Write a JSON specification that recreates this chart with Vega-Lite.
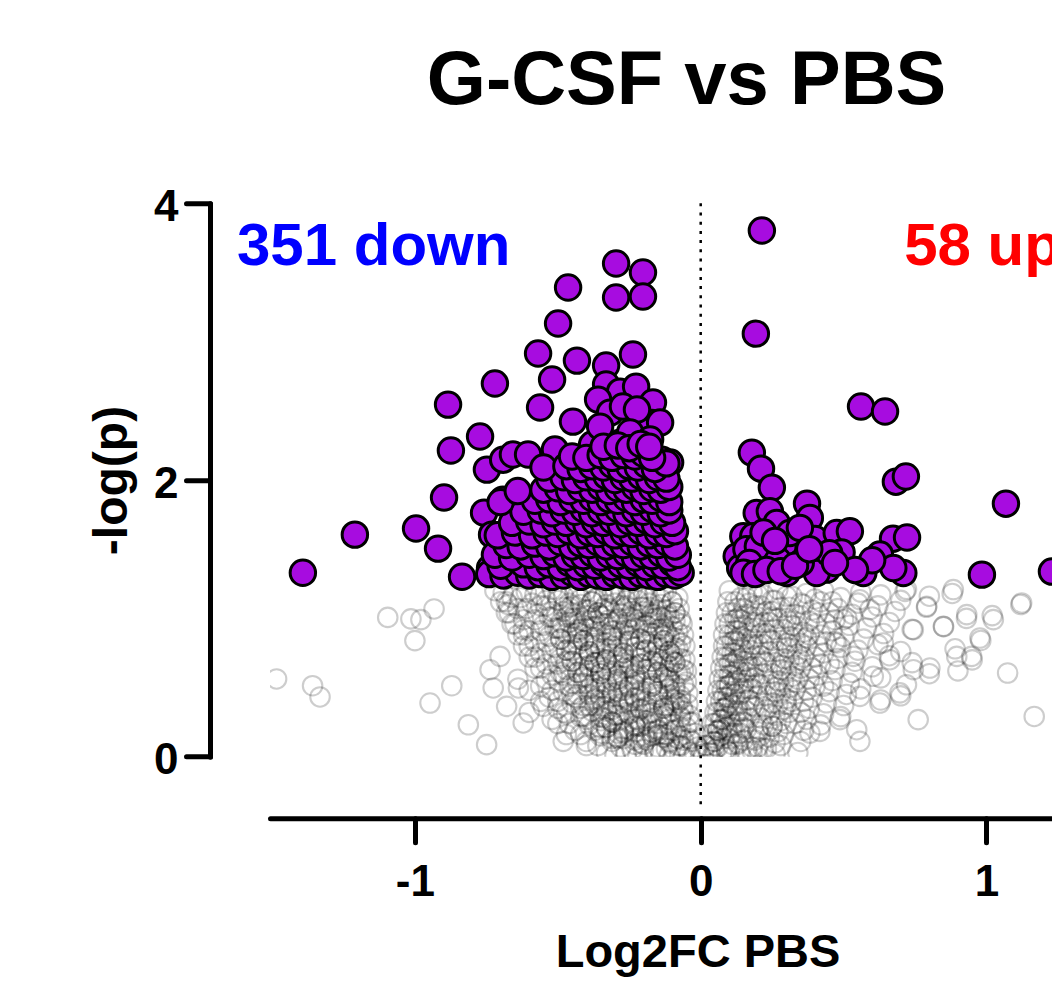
{
"$schema":"https://vega.github.io/schema/vega-lite/v6.json",
"width":782,"height":553.4,
"autosize":{"type":"none"},
"padding":{"left":270,"top":203.3,"right":0,"bottom":225.3},
"background":"white",
"config":{"view":{"stroke":null},"font":"Liberation Sans"},
"title":{"text":"G-CSF vs PBS","font":"Liberation Sans","fontSize":76,"fontWeight":"bold","color":"black","anchor":"middle","frame":"group","dx":25.5,"offset":65},
"datasets":{
"labels":[{"label":"351 down","x":-1.6225,"y":3.557,"dir":"down"},{"label":"58 up","x":0.712,"y":3.557,"dir":"up"}],
"ns":[
{"x":-0.72,"y":1.20},{"x":-0.66,"y":1.15},{"x":-0.61,"y":1.19},{"x":-0.56,"y":1.17},{"x":-0.52,"y":1.21},{"x":-0.48,"y":1.16},{"x":-0.44,"y":1.18},{"x":-0.40,"y":1.20},{"x":-0.36,"y":1.15},{"x":-0.32,"y":1.19},{"x":-0.28,"y":1.17},{"x":-0.24,"y":1.21},{"x":-0.20,"y":1.16},{"x":-0.16,"y":1.18},{"x":-0.12,"y":1.20},{"x":-0.08,"y":1.15},
{"x":-0.70,"y":1.12},{"x":-0.64,"y":1.07},{"x":-0.59,"y":1.11},{"x":-0.54,"y":1.09},{"x":-0.50,"y":1.13},{"x":-0.46,"y":1.08},{"x":-0.42,"y":1.10},{"x":-0.38,"y":1.12},{"x":-0.34,"y":1.07},{"x":-0.30,"y":1.11},{"x":-0.26,"y":1.09},{"x":-0.22,"y":1.13},{"x":-0.18,"y":1.08},{"x":-0.14,"y":1.10},{"x":-0.10,"y":1.12},{"x":-0.075,"y":1.07},
{"x":-0.68,"y":1.04},{"x":-0.62,"y":0.99},{"x":-0.57,"y":1.03},{"x":-0.52,"y":1.01},{"x":-0.48,"y":1.05},{"x":-0.44,"y":1.00},{"x":-0.40,"y":1.02},{"x":-0.36,"y":1.04},{"x":-0.32,"y":0.99},{"x":-0.28,"y":1.03},{"x":-0.24,"y":1.01},{"x":-0.20,"y":1.05},{"x":-0.16,"y":1.00},{"x":-0.12,"y":1.02},{"x":-0.09,"y":1.04},{"x":-0.07,"y":0.99},
{"x":-0.66,"y":0.96},{"x":-0.60,"y":0.91},{"x":-0.55,"y":0.95},{"x":-0.50,"y":0.93},{"x":-0.46,"y":0.97},{"x":-0.42,"y":0.92},{"x":-0.38,"y":0.94},{"x":-0.34,"y":0.96},{"x":-0.30,"y":0.91},{"x":-0.26,"y":0.95},{"x":-0.22,"y":0.93},{"x":-0.18,"y":0.97},{"x":-0.14,"y":0.92},{"x":-0.10,"y":0.94},{"x":-0.065,"y":0.96},
{"x":-0.64,"y":0.88},{"x":-0.58,"y":0.83},{"x":-0.53,"y":0.87},{"x":-0.49,"y":0.85},{"x":-0.45,"y":0.89},{"x":-0.41,"y":0.84},{"x":-0.37,"y":0.86},{"x":-0.33,"y":0.88},{"x":-0.29,"y":0.83},{"x":-0.25,"y":0.87},{"x":-0.21,"y":0.85},{"x":-0.17,"y":0.89},{"x":-0.13,"y":0.84},{"x":-0.09,"y":0.86},{"x":-0.06,"y":0.88},
{"x":-0.62,"y":0.80},{"x":-0.56,"y":0.75},{"x":-0.51,"y":0.79},{"x":-0.47,"y":0.77},{"x":-0.43,"y":0.81},{"x":-0.39,"y":0.76},{"x":-0.35,"y":0.78},{"x":-0.31,"y":0.80},{"x":-0.27,"y":0.75},{"x":-0.23,"y":0.79},{"x":-0.19,"y":0.77},{"x":-0.15,"y":0.81},{"x":-0.11,"y":0.76},{"x":-0.08,"y":0.78},{"x":-0.055,"y":0.80},
{"x":-0.60,"y":0.72},{"x":-0.54,"y":0.67},{"x":-0.49,"y":0.71},{"x":-0.45,"y":0.69},{"x":-0.41,"y":0.73},{"x":-0.37,"y":0.68},{"x":-0.33,"y":0.70},{"x":-0.29,"y":0.72},{"x":-0.25,"y":0.67},{"x":-0.21,"y":0.71},{"x":-0.17,"y":0.69},{"x":-0.13,"y":0.73},{"x":-0.09,"y":0.68},{"x":-0.055,"y":0.70},
{"x":-0.58,"y":0.64},{"x":-0.52,"y":0.59},{"x":-0.47,"y":0.63},{"x":-0.43,"y":0.61},{"x":-0.39,"y":0.65},{"x":-0.35,"y":0.60},{"x":-0.31,"y":0.62},{"x":-0.27,"y":0.64},{"x":-0.23,"y":0.59},{"x":-0.19,"y":0.63},{"x":-0.15,"y":0.61},{"x":-0.11,"y":0.65},{"x":-0.08,"y":0.60},{"x":-0.05,"y":0.62},
{"x":-0.64,"y":0.56},{"x":-0.56,"y":0.51},{"x":-0.50,"y":0.55},{"x":-0.45,"y":0.53},{"x":-0.41,"y":0.57},{"x":-0.37,"y":0.52},{"x":-0.33,"y":0.54},{"x":-0.29,"y":0.56},{"x":-0.25,"y":0.51},{"x":-0.21,"y":0.55},{"x":-0.17,"y":0.53},{"x":-0.13,"y":0.57},{"x":-0.09,"y":0.52},{"x":-0.05,"y":0.54},
{"x":-0.60,"y":0.48},{"x":-0.53,"y":0.43},{"x":-0.48,"y":0.47},{"x":-0.43,"y":0.45},{"x":-0.39,"y":0.49},{"x":-0.35,"y":0.44},{"x":-0.31,"y":0.46},{"x":-0.27,"y":0.48},{"x":-0.23,"y":0.43},{"x":-0.19,"y":0.47},{"x":-0.15,"y":0.45},{"x":-0.11,"y":0.49},{"x":-0.07,"y":0.44},{"x":-0.045,"y":0.46},
{"x":-0.56,"y":0.40},{"x":-0.50,"y":0.35},{"x":-0.45,"y":0.39},{"x":-0.41,"y":0.37},{"x":-0.37,"y":0.41},{"x":-0.33,"y":0.36},{"x":-0.29,"y":0.38},{"x":-0.25,"y":0.40},{"x":-0.21,"y":0.35},{"x":-0.17,"y":0.39},{"x":-0.13,"y":0.37},{"x":-0.09,"y":0.41},{"x":-0.065,"y":0.36},{"x":-0.045,"y":0.38},
{"x":-0.60,"y":0.32},{"x":-0.52,"y":0.27},{"x":-0.47,"y":0.31},{"x":-0.42,"y":0.29},{"x":-0.38,"y":0.33},{"x":-0.34,"y":0.28},{"x":-0.30,"y":0.30},{"x":-0.26,"y":0.32},{"x":-0.22,"y":0.27},{"x":-0.18,"y":0.31},{"x":-0.14,"y":0.29},{"x":-0.10,"y":0.33},{"x":-0.07,"y":0.28},{"x":-0.04,"y":0.30},
{"x":-0.50,"y":0.24},{"x":-0.44,"y":0.19},{"x":-0.39,"y":0.23},{"x":-0.35,"y":0.21},{"x":-0.31,"y":0.25},{"x":-0.27,"y":0.20},{"x":-0.23,"y":0.22},{"x":-0.19,"y":0.24},{"x":-0.15,"y":0.19},{"x":-0.11,"y":0.23},{"x":-0.07,"y":0.21},{"x":-0.03,"y":0.25},
{"x":-0.47,"y":0.16},{"x":-0.40,"y":0.11},{"x":-0.35,"y":0.15},{"x":-0.31,"y":0.13},{"x":-0.27,"y":0.17},{"x":-0.23,"y":0.12},{"x":-0.19,"y":0.14},{"x":-0.15,"y":0.16},{"x":-0.11,"y":0.11},{"x":-0.07,"y":0.15},{"x":-0.04,"y":0.13},{"x":-0.02,"y":0.17},
{"x":-0.40,"y":0.08},{"x":-0.33,"y":0.03},{"x":-0.28,"y":0.07},{"x":-0.24,"y":0.05},{"x":-0.20,"y":0.09},{"x":-0.16,"y":0.04},{"x":-0.12,"y":0.06},{"x":-0.08,"y":0.08},{"x":-0.04,"y":0.03},{"x":-0.01,"y":0.07},
{"x":-0.30,"y":0.01},{"x":-0.22,"y":0.0},{"x":-0.16,"y":0.02},{"x":-0.11,"y":0.01},{"x":-0.06,"y":0.0},{"x":-0.02,"y":0.02},
{"x":-0.68,"y":1.12},{"x":-0.63,"y":1.15},{"x":-0.58,"y":1.17},{"x":-0.54,"y":1.13},{"x":-0.50,"y":1.16},{"x":-0.46,"y":1.11},{"x":-0.42,"y":1.14},{"x":-0.38,"y":1.12},{"x":-0.34,"y":1.15},{"x":-0.30,"y":1.17},{"x":-0.26,"y":1.13},{"x":-0.22,"y":1.16},{"x":-0.18,"y":1.11},{"x":-0.14,"y":1.14},{"x":-0.10,"y":1.12},
{"x":-0.67,"y":1.04},{"x":-0.61,"y":1.07},{"x":-0.56,"y":1.09},{"x":-0.52,"y":1.05},{"x":-0.48,"y":1.08},{"x":-0.44,"y":1.03},{"x":-0.40,"y":1.06},{"x":-0.36,"y":1.04},{"x":-0.32,"y":1.07},{"x":-0.28,"y":1.09},{"x":-0.24,"y":1.05},{"x":-0.20,"y":1.08},{"x":-0.16,"y":1.03},{"x":-0.12,"y":1.06},{"x":-0.09,"y":1.04},
{"x":-0.65,"y":0.96},{"x":-0.58,"y":0.99},{"x":-0.53,"y":1.01},{"x":-0.49,"y":0.97},{"x":-0.45,"y":1.00},{"x":-0.41,"y":0.95},{"x":-0.37,"y":0.98},{"x":-0.33,"y":0.96},{"x":-0.29,"y":0.99},{"x":-0.25,"y":1.01},{"x":-0.21,"y":0.97},{"x":-0.17,"y":1.00},{"x":-0.13,"y":0.95},{"x":-0.09,"y":0.98},
{"x":-0.62,"y":0.88},{"x":-0.56,"y":0.91},{"x":-0.51,"y":0.93},{"x":-0.47,"y":0.89},{"x":-0.43,"y":0.92},{"x":-0.39,"y":0.87},{"x":-0.35,"y":0.90},{"x":-0.31,"y":0.88},{"x":-0.27,"y":0.91},{"x":-0.23,"y":0.93},{"x":-0.19,"y":0.89},{"x":-0.15,"y":0.92},{"x":-0.11,"y":0.87},{"x":-0.08,"y":0.90},
{"x":-0.60,"y":0.80},{"x":-0.54,"y":0.83},{"x":-0.49,"y":0.85},{"x":-0.45,"y":0.81},{"x":-0.41,"y":0.84},{"x":-0.37,"y":0.79},{"x":-0.33,"y":0.82},{"x":-0.29,"y":0.80},{"x":-0.25,"y":0.83},{"x":-0.21,"y":0.85},{"x":-0.17,"y":0.81},{"x":-0.13,"y":0.84},{"x":-0.09,"y":0.79},{"x":-0.07,"y":0.82},
{"x":-0.58,"y":0.72},{"x":-0.52,"y":0.75},{"x":-0.47,"y":0.77},{"x":-0.43,"y":0.73},{"x":-0.39,"y":0.76},{"x":-0.35,"y":0.71},{"x":-0.31,"y":0.74},{"x":-0.27,"y":0.72},{"x":-0.23,"y":0.75},{"x":-0.19,"y":0.77},{"x":-0.15,"y":0.73},{"x":-0.11,"y":0.76},{"x":-0.07,"y":0.71},
{"x":-0.56,"y":0.64},{"x":-0.50,"y":0.67},{"x":-0.45,"y":0.69},{"x":-0.41,"y":0.65},{"x":-0.37,"y":0.68},{"x":-0.33,"y":0.63},{"x":-0.29,"y":0.66},{"x":-0.25,"y":0.64},{"x":-0.21,"y":0.67},{"x":-0.17,"y":0.69},{"x":-0.13,"y":0.65},{"x":-0.09,"y":0.68},{"x":-0.06,"y":0.63},
{"x":-0.54,"y":0.56},{"x":-0.48,"y":0.59},{"x":-0.43,"y":0.61},{"x":-0.39,"y":0.57},{"x":-0.35,"y":0.60},{"x":-0.31,"y":0.55},{"x":-0.27,"y":0.58},{"x":-0.23,"y":0.56},{"x":-0.19,"y":0.59},{"x":-0.15,"y":0.61},{"x":-0.11,"y":0.57},{"x":-0.07,"y":0.60},
{"x":-0.52,"y":0.48},{"x":-0.46,"y":0.51},{"x":-0.41,"y":0.53},{"x":-0.37,"y":0.49},{"x":-0.33,"y":0.52},{"x":-0.29,"y":0.47},{"x":-0.25,"y":0.50},{"x":-0.21,"y":0.48},{"x":-0.17,"y":0.51},{"x":-0.13,"y":0.53},{"x":-0.09,"y":0.49},{"x":-0.06,"y":0.52},
{"x":-0.50,"y":0.40},{"x":-0.44,"y":0.43},{"x":-0.39,"y":0.45},{"x":-0.35,"y":0.41},{"x":-0.31,"y":0.44},{"x":-0.27,"y":0.39},{"x":-0.23,"y":0.42},{"x":-0.19,"y":0.40},{"x":-0.15,"y":0.43},{"x":-0.11,"y":0.45},{"x":-0.07,"y":0.41},
{"x":-0.48,"y":0.32},{"x":-0.42,"y":0.35},{"x":-0.37,"y":0.37},{"x":-0.33,"y":0.33},{"x":-0.29,"y":0.36},{"x":-0.25,"y":0.31},{"x":-0.21,"y":0.34},{"x":-0.17,"y":0.32},{"x":-0.13,"y":0.35},{"x":-0.09,"y":0.37},{"x":-0.06,"y":0.33},
{"x":-0.46,"y":0.24},{"x":-0.40,"y":0.27},{"x":-0.35,"y":0.29},{"x":-0.31,"y":0.25},{"x":-0.27,"y":0.28},{"x":-0.23,"y":0.23},{"x":-0.19,"y":0.26},{"x":-0.15,"y":0.24},{"x":-0.11,"y":0.27},{"x":-0.07,"y":0.29},{"x":-0.04,"y":0.25},
{"x":-0.42,"y":0.16},{"x":-0.37,"y":0.19},{"x":-0.33,"y":0.21},{"x":-0.29,"y":0.17},{"x":-0.25,"y":0.20},{"x":-0.21,"y":0.15},{"x":-0.17,"y":0.18},{"x":-0.13,"y":0.16},{"x":-0.09,"y":0.19},{"x":-0.05,"y":0.21},
{"x":-0.36,"y":0.08},{"x":-0.31,"y":0.11},{"x":-0.27,"y":0.13},{"x":-0.23,"y":0.09},{"x":-0.19,"y":0.12},{"x":-0.15,"y":0.07},{"x":-0.11,"y":0.10},{"x":-0.07,"y":0.08},{"x":-0.03,"y":0.11},
{"x":-0.26,"y":0.02},{"x":-0.20,"y":0.05},{"x":-0.14,"y":0.03},{"x":-0.09,"y":0.04},{"x":-0.05,"y":0.06},
{"x":-0.43,"y":1.17},{"x":-0.37,"y":1.14},{"x":-0.31,"y":1.18},{"x":-0.25,"y":1.16},{"x":-0.19,"y":1.15},{"x":-0.13,"y":1.19},
{"x":-0.47,"y":1.01},{"x":-0.41,"y":0.98},{"x":-0.35,"y":1.02},{"x":-0.29,"y":1.00},{"x":-0.23,"y":0.99},{"x":-0.17,"y":1.03},{"x":-0.11,"y":1.01},
{"x":-0.43,"y":0.85},{"x":-0.37,"y":0.82},{"x":-0.31,"y":0.86},{"x":-0.25,"y":0.84},{"x":-0.19,"y":0.83},{"x":-0.13,"y":0.87},
{"x":-0.47,"y":0.69},{"x":-0.39,"y":0.66},{"x":-0.33,"y":0.70},{"x":-0.27,"y":0.68},{"x":-0.21,"y":0.67},{"x":-0.15,"y":0.71},{"x":-0.10,"y":0.69},
{"x":-0.43,"y":0.53},{"x":-0.35,"y":0.50},{"x":-0.29,"y":0.54},{"x":-0.23,"y":0.52},{"x":-0.17,"y":0.51},{"x":-0.11,"y":0.55},
{"x":-0.39,"y":0.37},{"x":-0.31,"y":0.34},{"x":-0.25,"y":0.38},{"x":-0.19,"y":0.36},{"x":-0.13,"y":0.35},{"x":-0.08,"y":0.39},
{"x":-0.33,"y":0.21},{"x":-0.27,"y":0.18},{"x":-0.21,"y":0.22},{"x":-0.15,"y":0.20},{"x":-0.10,"y":0.19},
{"x":-0.29,"y":0.13},{"x":-0.21,"y":0.10},{"x":-0.13,"y":0.14},{"x":-0.06,"y":0.12},
{"x":-0.45,"y":1.09},{"x":-0.39,"y":1.06},{"x":-0.33,"y":1.10},{"x":-0.27,"y":1.07},{"x":-0.21,"y":1.08},{"x":-0.15,"y":1.06},
{"x":-0.49,"y":0.93},{"x":-0.43,"y":0.90},{"x":-0.37,"y":0.94},{"x":-0.31,"y":0.91},{"x":-0.25,"y":0.92},{"x":-0.19,"y":0.95},{"x":-0.12,"y":0.90},
{"x":-0.45,"y":0.77},{"x":-0.39,"y":0.74},{"x":-0.33,"y":0.78},{"x":-0.27,"y":0.75},{"x":-0.21,"y":0.76},{"x":-0.15,"y":0.79},{"x":-0.10,"y":0.74},
{"x":-0.49,"y":0.61},{"x":-0.41,"y":0.58},{"x":-0.35,"y":0.62},{"x":-0.29,"y":0.59},{"x":-0.23,"y":0.60},{"x":-0.17,"y":0.63},{"x":-0.12,"y":0.58},
{"x":-0.45,"y":0.45},{"x":-0.37,"y":0.42},{"x":-0.33,"y":0.46},{"x":-0.27,"y":0.43},{"x":-0.21,"y":0.44},{"x":-0.15,"y":0.47},{"x":-0.10,"y":0.42},
{"x":-0.41,"y":0.29},{"x":-0.35,"y":0.26},{"x":-0.29,"y":0.30},{"x":-0.23,"y":0.27},{"x":-0.17,"y":0.28},{"x":-0.12,"y":0.31},
{"x":-0.35,"y":0.17},{"x":-0.29,"y":0.14},{"x":-0.23,"y":0.18},{"x":-0.17,"y":0.15},{"x":-0.12,"y":0.16},{"x":-0.08,"y":0.13},
{"x":-0.38,"y":1.00},{"x":-0.26,"y":0.97},{"x":-0.14,"y":1.01},{"x":-0.36,"y":0.68},{"x":-0.24,"y":0.65},{"x":-0.14,"y":0.69},{"x":-0.34,"y":0.36},{"x":-0.22,"y":0.33},{"x":-0.11,"y":0.37},
{"x":-1.484,"y":0.562},{"x":-1.358,"y":0.513},{"x":-1.332,"y":0.432},{"x":-1.095,"y":1.007},{"x":-1.014,"y":0.996},{"x":-0.979,"y":0.991},{"x":-0.933,"y":1.068},{"x":-1.0,"y":0.839},{"x":-0.871,"y":0.513},{"x":-0.947,"y":0.388},{"x":-0.813,"y":0.231},{"x":-0.749,"y":0.087},{"x":-0.481,"y":0.111},{"x":-0.702,"y":0.725},{"x":-0.737,"y":0.629},{"x":-0.726,"y":0.497},{"x":-0.679,"y":0.364},{"x":-0.621,"y":0.244},{"x":-0.638,"y":0.497},{"x":-0.691,"y":1.184},{"x":-0.673,"y":1.099},{"x":-0.621,"y":0.918},{"x":-0.551,"y":0.364},
{"x":0.10,"y":1.20},{"x":0.14,"y":1.15},{"x":0.18,"y":1.19},{"x":0.22,"y":1.17},{"x":0.27,"y":1.21},{"x":0.32,"y":1.16},{"x":0.37,"y":1.18},{"x":0.43,"y":1.20},{"x":0.49,"y":1.15},{"x":0.56,"y":1.19},{"x":0.63,"y":1.17},{"x":0.72,"y":1.21},{"x":0.80,"y":1.16},{"x":0.88,"y":1.18},
{"x":0.095,"y":1.12},{"x":0.13,"y":1.07},{"x":0.17,"y":1.11},{"x":0.21,"y":1.09},{"x":0.26,"y":1.13},{"x":0.31,"y":1.08},{"x":0.36,"y":1.10},{"x":0.42,"y":1.12},{"x":0.48,"y":1.07},{"x":0.55,"y":1.11},{"x":0.62,"y":1.09},{"x":0.70,"y":1.13},{"x":0.79,"y":1.08},{"x":1.12,"y":1.10},
{"x":0.09,"y":1.04},{"x":0.12,"y":0.99},{"x":0.16,"y":1.03},{"x":0.20,"y":1.01},{"x":0.25,"y":1.05},{"x":0.30,"y":1.00},{"x":0.35,"y":1.02},{"x":0.41,"y":1.04},{"x":0.47,"y":0.99},{"x":0.53,"y":1.03},{"x":0.60,"y":1.01},{"x":0.68,"y":1.05},{"x":0.93,"y":1.00},{"x":1.02,"y":1.02},
{"x":0.085,"y":0.96},{"x":0.12,"y":0.91},{"x":0.15,"y":0.95},{"x":0.19,"y":0.93},{"x":0.24,"y":0.97},{"x":0.29,"y":0.92},{"x":0.34,"y":0.94},{"x":0.40,"y":0.96},{"x":0.46,"y":0.91},{"x":0.52,"y":0.95},{"x":0.58,"y":0.93},{"x":0.66,"y":0.97},{"x":0.74,"y":0.92},{"x":0.85,"y":0.94},
{"x":0.08,"y":0.88},{"x":0.11,"y":0.83},{"x":0.14,"y":0.87},{"x":0.18,"y":0.85},{"x":0.23,"y":0.89},{"x":0.28,"y":0.84},{"x":0.33,"y":0.86},{"x":0.38,"y":0.88},{"x":0.44,"y":0.83},{"x":0.50,"y":0.87},{"x":0.57,"y":0.85},{"x":0.64,"y":0.89},{"x":0.98,"y":0.84},
{"x":0.08,"y":0.80},{"x":0.11,"y":0.75},{"x":0.14,"y":0.79},{"x":0.17,"y":0.77},{"x":0.22,"y":0.81},{"x":0.27,"y":0.76},{"x":0.32,"y":0.78},{"x":0.37,"y":0.80},{"x":0.43,"y":0.75},{"x":0.49,"y":0.79},{"x":0.55,"y":0.77},{"x":0.62,"y":0.81},{"x":0.70,"y":0.76},{"x":0.89,"y":0.78},
{"x":0.075,"y":0.72},{"x":0.10,"y":0.67},{"x":0.13,"y":0.71},{"x":0.16,"y":0.69},{"x":0.21,"y":0.73},{"x":0.26,"y":0.68},{"x":0.31,"y":0.70},{"x":0.36,"y":0.72},{"x":0.42,"y":0.67},{"x":0.48,"y":0.71},{"x":0.54,"y":0.69},{"x":0.66,"y":0.73},{"x":0.74,"y":0.68},{"x":0.95,"y":0.70},
{"x":0.07,"y":0.64},{"x":0.10,"y":0.59},{"x":0.13,"y":0.63},{"x":0.16,"y":0.61},{"x":0.20,"y":0.65},{"x":0.25,"y":0.60},{"x":0.30,"y":0.62},{"x":0.35,"y":0.64},{"x":0.41,"y":0.59},{"x":0.47,"y":0.63},{"x":0.53,"y":0.61},{"x":0.60,"y":0.65},{"x":0.80,"y":0.60},{"x":0.90,"y":0.62},
{"x":0.065,"y":0.56},{"x":0.09,"y":0.51},{"x":0.12,"y":0.55},{"x":0.15,"y":0.53},{"x":0.19,"y":0.57},{"x":0.24,"y":0.52},{"x":0.29,"y":0.54},{"x":0.34,"y":0.56},{"x":0.40,"y":0.51},{"x":0.46,"y":0.55},{"x":0.52,"y":0.53},{"x":0.63,"y":0.57},{"x":0.72,"y":0.52},
{"x":0.06,"y":0.48},{"x":0.08,"y":0.43},{"x":0.11,"y":0.47},{"x":0.14,"y":0.45},{"x":0.18,"y":0.49},{"x":0.23,"y":0.44},{"x":0.28,"y":0.46},{"x":0.33,"y":0.48},{"x":0.39,"y":0.43},{"x":0.45,"y":0.47},{"x":0.51,"y":0.45},{"x":0.56,"y":0.49},{"x":0.70,"y":0.44},
{"x":0.055,"y":0.40},{"x":0.08,"y":0.35},{"x":0.10,"y":0.39},{"x":0.13,"y":0.37},{"x":0.17,"y":0.41},{"x":0.22,"y":0.36},{"x":0.27,"y":0.38},{"x":0.32,"y":0.40},{"x":0.38,"y":0.35},{"x":0.44,"y":0.39},{"x":0.50,"y":0.37},{"x":0.63,"y":0.41},
{"x":0.05,"y":0.32},{"x":0.07,"y":0.27},{"x":0.09,"y":0.31},{"x":0.12,"y":0.29},{"x":0.16,"y":0.33},{"x":0.21,"y":0.28},{"x":0.26,"y":0.30},{"x":0.31,"y":0.32},{"x":0.37,"y":0.27},{"x":0.43,"y":0.31},{"x":0.49,"y":0.29},
{"x":0.04,"y":0.24},{"x":0.06,"y":0.19},{"x":0.08,"y":0.23},{"x":0.11,"y":0.21},{"x":0.15,"y":0.25},{"x":0.20,"y":0.20},{"x":0.25,"y":0.22},{"x":0.30,"y":0.24},{"x":0.36,"y":0.19},{"x":0.42,"y":0.23},
{"x":0.03,"y":0.16},{"x":0.05,"y":0.11},{"x":0.07,"y":0.15},{"x":0.10,"y":0.13},{"x":0.14,"y":0.17},{"x":0.19,"y":0.12},{"x":0.24,"y":0.14},{"x":0.29,"y":0.16},{"x":0.35,"y":0.11},
{"x":0.015,"y":0.08},{"x":0.03,"y":0.03},{"x":0.06,"y":0.07},{"x":0.09,"y":0.05},{"x":0.13,"y":0.09},{"x":0.18,"y":0.04},{"x":0.23,"y":0.06},{"x":0.28,"y":0.08},{"x":0.34,"y":0.03},
{"x":0.0,"y":0.01},{"x":0.04,"y":0.0},{"x":0.09,"y":0.02},{"x":0.14,"y":0.01},{"x":0.20,"y":0.0},{"x":0.26,"y":0.02},
{"x":0.12,"y":1.12},{"x":0.16,"y":1.15},{"x":0.20,"y":1.17},{"x":0.25,"y":1.13},{"x":0.30,"y":1.16},{"x":0.35,"y":1.11},{"x":0.40,"y":1.14},{"x":0.46,"y":1.12},
{"x":0.11,"y":1.04},{"x":0.15,"y":1.07},{"x":0.19,"y":1.09},{"x":0.23,"y":1.05},{"x":0.28,"y":1.08},{"x":0.33,"y":1.03},{"x":0.39,"y":1.06},{"x":0.45,"y":1.04},
{"x":0.10,"y":0.96},{"x":0.14,"y":0.99},{"x":0.18,"y":1.01},{"x":0.22,"y":0.97},{"x":0.27,"y":1.00},{"x":0.32,"y":0.95},{"x":0.38,"y":0.98},{"x":0.44,"y":0.96},{"x":0.50,"y":0.99},
{"x":0.10,"y":0.88},{"x":0.13,"y":0.91},{"x":0.17,"y":0.93},{"x":0.21,"y":0.89},{"x":0.26,"y":0.92},{"x":0.31,"y":0.87},{"x":0.36,"y":0.90},{"x":0.42,"y":0.88},
{"x":0.09,"y":0.80},{"x":0.13,"y":0.83},{"x":0.16,"y":0.85},{"x":0.20,"y":0.81},{"x":0.25,"y":0.84},{"x":0.30,"y":0.79},{"x":0.35,"y":0.82},{"x":0.41,"y":0.80},{"x":0.47,"y":0.83},
{"x":0.09,"y":0.72},{"x":0.12,"y":0.75},{"x":0.15,"y":0.77},{"x":0.19,"y":0.73},{"x":0.24,"y":0.76},{"x":0.29,"y":0.71},{"x":0.34,"y":0.74},{"x":0.40,"y":0.72},
{"x":0.085,"y":0.64},{"x":0.12,"y":0.67},{"x":0.15,"y":0.69},{"x":0.18,"y":0.65},{"x":0.23,"y":0.68},{"x":0.28,"y":0.63},{"x":0.33,"y":0.66},{"x":0.39,"y":0.64},{"x":0.45,"y":0.67},
{"x":0.08,"y":0.56},{"x":0.11,"y":0.59},{"x":0.14,"y":0.61},{"x":0.17,"y":0.57},{"x":0.22,"y":0.60},{"x":0.27,"y":0.55},{"x":0.32,"y":0.58},{"x":0.38,"y":0.56},
{"x":0.075,"y":0.48},{"x":0.10,"y":0.51},{"x":0.13,"y":0.53},{"x":0.17,"y":0.49},{"x":0.21,"y":0.52},{"x":0.26,"y":0.47},{"x":0.31,"y":0.50},{"x":0.37,"y":0.48},{"x":0.43,"y":0.51},
{"x":0.07,"y":0.40},{"x":0.095,"y":0.43},{"x":0.12,"y":0.45},{"x":0.16,"y":0.41},{"x":0.20,"y":0.44},{"x":0.25,"y":0.39},{"x":0.30,"y":0.42},{"x":0.36,"y":0.40},
{"x":0.06,"y":0.32},{"x":0.085,"y":0.35},{"x":0.11,"y":0.37},{"x":0.14,"y":0.33},{"x":0.19,"y":0.36},{"x":0.24,"y":0.31},{"x":0.29,"y":0.34},{"x":0.35,"y":0.32},
{"x":0.05,"y":0.24},{"x":0.075,"y":0.27},{"x":0.10,"y":0.29},{"x":0.13,"y":0.25},{"x":0.17,"y":0.28},{"x":0.22,"y":0.23},{"x":0.28,"y":0.26},{"x":0.33,"y":0.24},
{"x":0.04,"y":0.16},{"x":0.06,"y":0.19},{"x":0.09,"y":0.21},{"x":0.12,"y":0.17},{"x":0.16,"y":0.20},{"x":0.21,"y":0.15},{"x":0.27,"y":0.18},
{"x":0.02,"y":0.08},{"x":0.045,"y":0.11},{"x":0.08,"y":0.13},{"x":0.11,"y":0.09},{"x":0.15,"y":0.12},{"x":0.20,"y":0.07},{"x":0.26,"y":0.10},
{"x":0.01,"y":0.02},{"x":0.05,"y":0.05},{"x":0.10,"y":0.03},{"x":0.16,"y":0.04},{"x":0.22,"y":0.06},
{"x":0.13,"y":1.00},{"x":0.19,"y":0.97},{"x":0.25,"y":1.01},{"x":0.31,"y":0.98},
{"x":0.12,"y":0.84},{"x":0.18,"y":0.81},{"x":0.24,"y":0.85},{"x":0.30,"y":0.82},{"x":0.37,"y":0.86},
{"x":0.11,"y":0.68},{"x":0.17,"y":0.65},{"x":0.22,"y":0.69},{"x":0.28,"y":0.66},{"x":0.35,"y":0.70},
{"x":0.10,"y":0.52},{"x":0.15,"y":0.49},{"x":0.20,"y":0.53},{"x":0.26,"y":0.50},{"x":0.33,"y":0.54},
{"x":0.09,"y":0.36},{"x":0.13,"y":0.33},{"x":0.18,"y":0.37},{"x":0.23,"y":0.34},{"x":0.30,"y":0.38},
{"x":0.07,"y":0.20},{"x":0.11,"y":0.17},{"x":0.15,"y":0.21},{"x":0.20,"y":0.18},{"x":0.25,"y":0.22},
{"x":0.05,"y":0.08},{"x":0.09,"y":0.06},{"x":0.13,"y":0.10},{"x":0.18,"y":0.07},
{"x":1.167,"y":0.291},{"x":1.074,"y":0.605},{"x":1.123,"y":1.111},{"x":0.931,"y":1.027},{"x":0.884,"y":1.208},{"x":1.024,"y":0.991},{"x":0.977,"y":0.858},{"x":0.948,"y":0.725},{"x":0.896,"y":0.725},{"x":0.802,"y":0.641},{"x":0.761,"y":0.268},{"x":0.849,"y":0.942},{"x":0.791,"y":1.087},{"x":0.744,"y":0.918},{"x":0.715,"y":1.195},{"x":0.744,"y":0.629},{"x":0.697,"y":0.461},{"x":0.627,"y":0.388},{"x":0.557,"y":0.111},{"x":0.546,"y":0.195},{"x":0.592,"y":1.063},{"x":0.639,"y":0.822},{"x":0.662,"y":0.701},{"x":0.604,"y":0.581},{"x":0.557,"y":0.436},{"x":0.487,"y":0.268},{"x":0.417,"y":0.183},{"x":0.382,"y":0.171},{"x":0.511,"y":1.003},{"x":0.476,"y":0.822},{"x":0.534,"y":0.725},{"x":0.557,"y":1.135}
],
"sig":[
{"x":-1.392,"y":1.33},{"x":-1.21,"y":1.605},{"x":-0.996,"y":1.649},{"x":-0.919,"y":1.504},{"x":-0.898,"y":1.873},{"x":-0.874,"y":2.213},{"x":-0.884,"y":2.545},{"x":-0.835,"y":1.301},{"x":-0.72,"y":2.697},{"x":-0.772,"y":2.314},{"x":-0.748,"y":2.075},{"x":-0.692,"y":1.858},{"x":-0.758,"y":1.764},{"x":-0.73,"y":1.605},{"x":-0.674,"y":1.367},{"x":-0.737,"y":1.364},{"x":-0.691,"y":2.147},{"x":-0.657,"y":2.184},{"x":-0.604,"y":2.184},{"x":-0.639,"y":1.894},
{"x":-0.464,"y":3.391},{"x":-0.499,"y":3.131},{"x":-0.569,"y":2.914},{"x":-0.52,"y":2.726},{"x":-0.562,"y":2.524},{"x":-0.433,"y":2.863},{"x":-0.296,"y":3.565},{"x":-0.202,"y":3.5},{"x":-0.296,"y":3.319},{"x":-0.202,"y":3.326},{"x":-0.237,"y":2.907},{"x":-0.331,"y":2.827},{"x":-0.331,"y":2.69},{"x":-0.282,"y":2.639},{"x":-0.226,"y":2.675},{"x":-0.167,"y":2.56},{"x":-0.171,"y":2.413},{"x":-0.359,"y":2.581},{"x":-0.447,"y":2.422},{"x":-0.282,"y":2.27},{"x":-0.38,"y":2.256},{"x":-0.51,"y":2.22},{"x":-0.136,"y":2.147},{"x":-0.317,"y":2.487},{"x":-0.272,"y":2.531},{"x":-0.223,"y":2.509},{"x":-0.142,"y":2.415},{"x":-0.352,"y":2.386},{"x":-0.247,"y":2.343},{"x":-0.177,"y":2.293},{"x":-0.107,"y":2.126},
{"x":-0.74,"y":1.32},{"x":-0.69,"y":1.31},{"x":-0.64,"y":1.33},{"x":-0.60,"y":1.31},{"x":-0.56,"y":1.32},{"x":-0.52,"y":1.30},{"x":-0.48,"y":1.31},{"x":-0.45,"y":1.33},{"x":-0.42,"y":1.30},{"x":-0.39,"y":1.32},{"x":-0.36,"y":1.31},{"x":-0.33,"y":1.30},{"x":-0.30,"y":1.32},{"x":-0.27,"y":1.31},{"x":-0.24,"y":1.30},{"x":-0.21,"y":1.32},{"x":-0.18,"y":1.31},{"x":-0.15,"y":1.30},{"x":-0.12,"y":1.32},{"x":-0.09,"y":1.31},{"x":-0.07,"y":1.33},
{"x":-0.70,"y":1.38},{"x":-0.62,"y":1.39},{"x":-0.57,"y":1.37},{"x":-0.53,"y":1.39},{"x":-0.49,"y":1.37},{"x":-0.46,"y":1.40},{"x":-0.43,"y":1.37},{"x":-0.40,"y":1.39},{"x":-0.37,"y":1.38},{"x":-0.34,"y":1.40},{"x":-0.31,"y":1.37},{"x":-0.28,"y":1.39},{"x":-0.25,"y":1.38},{"x":-0.22,"y":1.40},{"x":-0.19,"y":1.37},{"x":-0.16,"y":1.39},{"x":-0.13,"y":1.38},{"x":-0.10,"y":1.40},{"x":-0.08,"y":1.37},
{"x":-0.72,"y":1.46},{"x":-0.66,"y":1.44},{"x":-0.60,"y":1.46},{"x":-0.55,"y":1.45},{"x":-0.51,"y":1.47},{"x":-0.47,"y":1.44},{"x":-0.44,"y":1.46},{"x":-0.41,"y":1.45},{"x":-0.38,"y":1.47},{"x":-0.35,"y":1.44},{"x":-0.32,"y":1.46},{"x":-0.29,"y":1.45},{"x":-0.26,"y":1.47},{"x":-0.23,"y":1.44},{"x":-0.20,"y":1.46},{"x":-0.17,"y":1.45},{"x":-0.14,"y":1.47},{"x":-0.11,"y":1.44},{"x":-0.08,"y":1.46},
{"x":-0.68,"y":1.53},{"x":-0.63,"y":1.52},{"x":-0.58,"y":1.54},{"x":-0.53,"y":1.52},{"x":-0.49,"y":1.55},{"x":-0.45,"y":1.52},{"x":-0.42,"y":1.54},{"x":-0.39,"y":1.53},{"x":-0.36,"y":1.55},{"x":-0.33,"y":1.52},{"x":-0.30,"y":1.54},{"x":-0.27,"y":1.53},{"x":-0.24,"y":1.55},{"x":-0.21,"y":1.52},{"x":-0.18,"y":1.54},{"x":-0.15,"y":1.53},{"x":-0.12,"y":1.55},{"x":-0.09,"y":1.52},
{"x":-0.71,"y":1.60},{"x":-0.65,"y":1.62},{"x":-0.59,"y":1.60},{"x":-0.54,"y":1.62},{"x":-0.50,"y":1.61},{"x":-0.46,"y":1.63},{"x":-0.42,"y":1.60},{"x":-0.39,"y":1.62},{"x":-0.36,"y":1.61},{"x":-0.33,"y":1.63},{"x":-0.30,"y":1.60},{"x":-0.27,"y":1.62},{"x":-0.24,"y":1.61},{"x":-0.21,"y":1.63},{"x":-0.18,"y":1.60},{"x":-0.15,"y":1.62},{"x":-0.12,"y":1.61},{"x":-0.09,"y":1.63},
{"x":-0.66,"y":1.69},{"x":-0.60,"y":1.70},{"x":-0.55,"y":1.68},{"x":-0.51,"y":1.70},{"x":-0.47,"y":1.69},{"x":-0.43,"y":1.71},{"x":-0.40,"y":1.68},{"x":-0.37,"y":1.70},{"x":-0.34,"y":1.69},{"x":-0.31,"y":1.71},{"x":-0.28,"y":1.68},{"x":-0.25,"y":1.70},{"x":-0.22,"y":1.69},{"x":-0.19,"y":1.71},{"x":-0.16,"y":1.68},{"x":-0.13,"y":1.70},{"x":-0.10,"y":1.69},
{"x":-0.62,"y":1.77},{"x":-0.56,"y":1.78},{"x":-0.52,"y":1.76},{"x":-0.48,"y":1.78},{"x":-0.44,"y":1.77},{"x":-0.41,"y":1.79},{"x":-0.38,"y":1.76},{"x":-0.35,"y":1.78},{"x":-0.32,"y":1.77},{"x":-0.29,"y":1.79},{"x":-0.26,"y":1.76},{"x":-0.23,"y":1.78},{"x":-0.20,"y":1.77},{"x":-0.17,"y":1.79},{"x":-0.14,"y":1.76},{"x":-0.11,"y":1.78},
{"x":-0.70,"y":1.84},{"x":-0.58,"y":1.85},{"x":-0.53,"y":1.86},{"x":-0.49,"y":1.84},{"x":-0.45,"y":1.86},{"x":-0.41,"y":1.85},{"x":-0.38,"y":1.87},{"x":-0.35,"y":1.84},{"x":-0.32,"y":1.86},{"x":-0.29,"y":1.85},{"x":-0.26,"y":1.87},{"x":-0.23,"y":1.84},{"x":-0.20,"y":1.86},{"x":-0.17,"y":1.85},{"x":-0.14,"y":1.87},{"x":-0.11,"y":1.84},
{"x":-0.64,"y":1.92},{"x":-0.55,"y":1.93},{"x":-0.50,"y":1.94},{"x":-0.46,"y":1.92},{"x":-0.42,"y":1.94},{"x":-0.38,"y":1.93},{"x":-0.35,"y":1.95},{"x":-0.32,"y":1.92},{"x":-0.29,"y":1.94},{"x":-0.26,"y":1.93},{"x":-0.23,"y":1.95},{"x":-0.20,"y":1.92},{"x":-0.17,"y":1.94},{"x":-0.14,"y":1.93},{"x":-0.11,"y":1.95},
{"x":-0.53,"y":2.01},{"x":-0.48,"y":2.02},{"x":-0.44,"y":2.00},{"x":-0.40,"y":2.02},{"x":-0.36,"y":2.01},{"x":-0.33,"y":2.03},{"x":-0.30,"y":2.00},{"x":-0.27,"y":2.02},{"x":-0.24,"y":2.01},{"x":-0.21,"y":2.03},{"x":-0.18,"y":2.00},{"x":-0.15,"y":2.02},{"x":-0.12,"y":2.01},
{"x":-0.55,"y":2.09},{"x":-0.47,"y":2.10},{"x":-0.42,"y":2.08},{"x":-0.38,"y":2.10},{"x":-0.34,"y":2.09},{"x":-0.31,"y":2.11},{"x":-0.28,"y":2.08},{"x":-0.25,"y":2.10},{"x":-0.22,"y":2.09},{"x":-0.19,"y":2.11},{"x":-0.16,"y":2.08},{"x":-0.12,"y":2.12},
{"x":-0.45,"y":2.17},{"x":-0.40,"y":2.16},{"x":-0.35,"y":2.18},{"x":-0.31,"y":2.16},{"x":-0.27,"y":2.18},{"x":-0.23,"y":2.17},{"x":-0.20,"y":2.19},{"x":-0.17,"y":2.16},
{"x":-0.34,"y":2.24},{"x":-0.29,"y":2.25},{"x":-0.25,"y":2.23},{"x":-0.21,"y":2.26},{"x":-0.18,"y":2.24},
{"x":0.214,"y":3.803},{"x":0.193,"y":3.058},{"x":0.561,"y":2.531},{"x":0.645,"y":2.495},{"x":0.179,"y":2.198},{"x":0.211,"y":2.082},{"x":0.249,"y":1.945},{"x":0.683,"y":1.988},{"x":0.718,"y":2.025},{"x":1.068,"y":1.829},{"x":0.372,"y":1.829},{"x":0.196,"y":1.762},{"x":0.242,"y":1.774},{"x":0.266,"y":1.69},{"x":0.149,"y":1.593},{"x":0.184,"y":1.593},{"x":0.382,"y":1.726},{"x":0.4,"y":1.574},{"x":0.476,"y":1.617},{"x":0.522,"y":1.629},{"x":0.493,"y":1.477},{"x":0.673,"y":1.576},{"x":0.722,"y":1.584},{"x":0.627,"y":1.461},{"x":0.336,"y":1.473},{"x":0.289,"y":1.52},{"x":0.231,"y":1.448},{"x":0.312,"y":1.617},{"x":0.347,"y":1.654},{"x":0.441,"y":1.352},{"x":0.254,"y":1.376},{"x":0.126,"y":1.448},{"x":0.138,"y":1.364},{"x":0.207,"y":1.34},{"x":0.301,"y":1.328},{"x":0.406,"y":1.328},{"x":0.569,"y":1.328},{"x":0.709,"y":1.328},{"x":0.674,"y":1.364},{"x":0.984,"y":1.316},{"x":1.229,"y":1.338},{"x":0.16,"y":1.5},{"x":0.2,"y":1.52},{"x":0.27,"y":1.42},{"x":0.17,"y":1.4},{"x":0.22,"y":1.62},{"x":0.26,"y":1.56},{"x":0.35,"y":1.4},{"x":0.45,"y":1.47},{"x":0.6,"y":1.42},{"x":0.54,"y":1.35},{"x":0.15,"y":1.33},{"x":0.19,"y":1.32},{"x":0.23,"y":1.35},{"x":0.28,"y":1.34},{"x":0.33,"y":1.38},{"x":0.38,"y":1.5},{"x":0.47,"y":1.4}
]
},
"layer":[
{"data":{"name":"ns"},
 "mark":{"type":"point","shape":"circle","filled":false,"stroke":"black","strokeOpacity":0.28,"strokeWidth":2.1,"size":380,"clip":true},
 "encoding":{
  "x":{"field":"x","type":"quantitative","scale":{"domain":[-1.507,1.2292],"nice":false,"zero":false},
   "axis":{"values":[-1,0,1],"labelExpr":"'' + datum.value","offset":61.6,"grid":false,"domainWidth":5,"domainColor":"black","domainCap":"round","tickWidth":5,"tickSize":24,"tickColor":"black","tickCap":"round","labelFontSize":44,"labelFontWeight":"bold","labelColor":"black","labelPadding":18,"labelFont":"Liberation Sans","labelFlush":false,"title":"Log2FC PBS","titleFontSize":47,"titleFontWeight":"bold","titleColor":"black","titleFont":"Liberation Sans","titleBaseline":"alphabetic","titleAlign":"center","titleX":427.5,"titleY":147.7}},
  "y":{"field":"y","type":"quantitative","scale":{"domain":[0,4],"nice":false,"zero":false},
   "axis":{"values":[0,2,4],"labelExpr":"'' + datum.value","offset":60,"grid":false,"domainWidth":5,"domainColor":"black","domainCap":"round","tickWidth":5,"tickSize":24,"tickColor":"black","tickCap":"round","labelFontSize":44,"labelFontWeight":"bold","labelColor":"black","labelPadding":8,"labelOffset":4,"labelFont":"Liberation Sans","title":"-log(p)","titleFontSize":48,"titleFontWeight":"bold","titleColor":"black","titleFont":"Liberation Sans","titleAngle":270,"titleBaseline":"alphabetic","titleAlign":"center","titleX":-84,"titleY":276.7}}
 }},
{"data":{"values":[{}]},
 "mark":{"type":"rule","stroke":"black","strokeWidth":2.5,"strokeDash":[3,6.2]},
 "encoding":{"x":{"datum":0,"type":"quantitative"},"y":{"datum":4,"type":"quantitative"},"y2":{"datum":-0.365}}},
{"data":{"name":"sig"},
 "mark":{"type":"point","shape":"circle","filled":true,"fill":"#a70ce0","fillOpacity":1,"stroke":"black","strokeWidth":3,"opacity":1,"size":647,"clip":true},
 "encoding":{"x":{"field":"x","type":"quantitative"},"y":{"field":"y","type":"quantitative"}}},
{"data":{"name":"labels"},
 "mark":{"type":"text","font":"Liberation Sans","fontSize":60,"fontWeight":"bold","align":"left","baseline":"alphabetic"},
 "encoding":{"x":{"field":"x","type":"quantitative"},"y":{"field":"y","type":"quantitative"},"text":{"field":"label"},
  "color":{"field":"dir","type":"nominal","scale":{"domain":["down","up"],"range":["#0000ff","#ff0000"]},"legend":null}}}
]
}
